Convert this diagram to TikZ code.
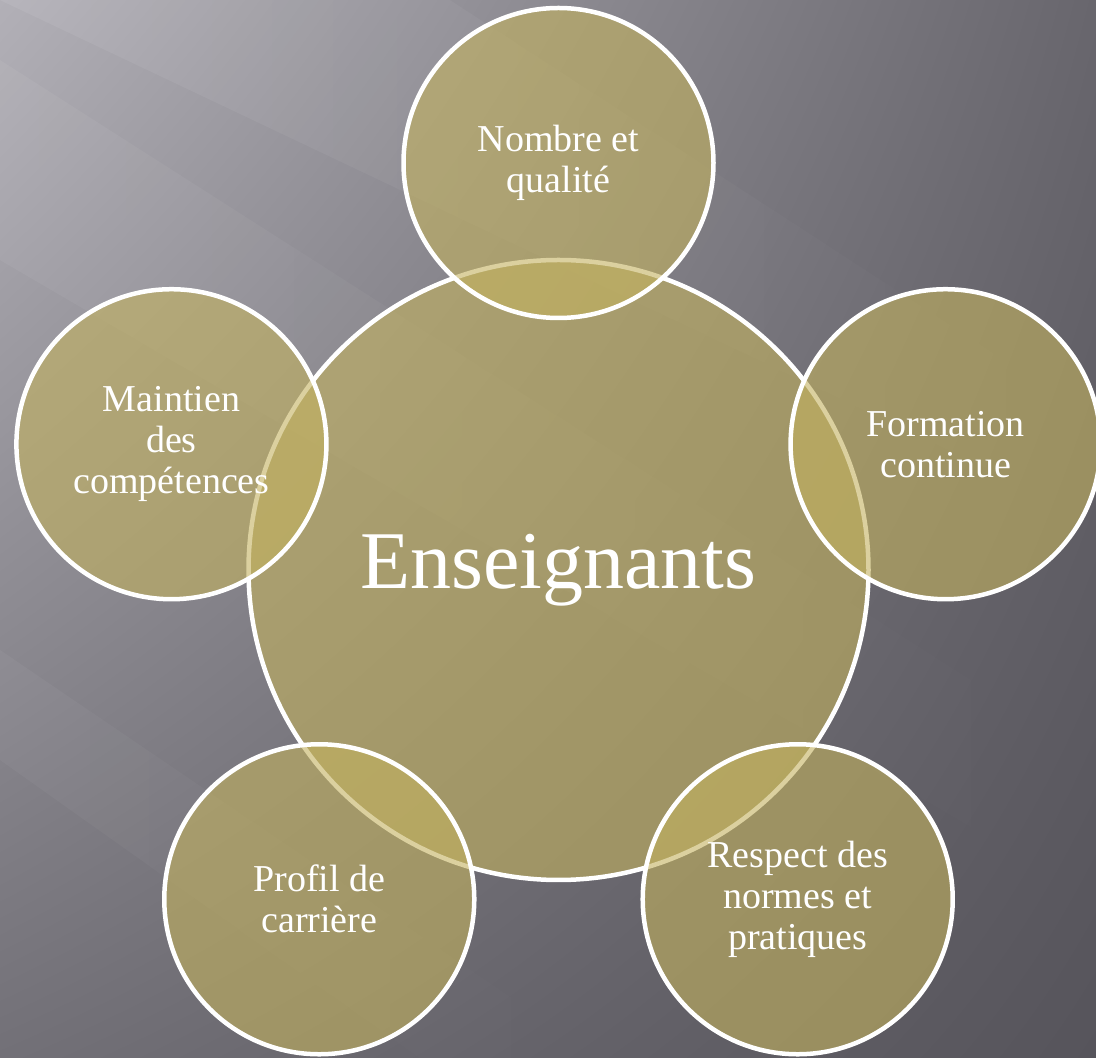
\documentclass[tikz,border=0pt]{standalone}
\usepackage{fontspec}
\setmainfont{Liberation Serif}
\usetikzlibrary{calc,fadings,shadings}

\definecolor{bgtl}{RGB}{178,176,183}
\definecolor{bgtr}{RGB}{104,102,109}
\definecolor{bgbl}{RGB}{114,112,119}
\definecolor{bgbr}{RGB}{86,84,91}
\definecolor{olive}{RGB}{195,178,95}

\begin{document}
\begin{tikzpicture}[x=1pt,y=1pt,
        hub/.style={circle, draw=white, line width=4.5pt, fill=olive,
                fill opacity=0.6, text opacity=1, text=white,
                minimum size=620pt, inner sep=0pt,
                font=\fontsize{82}{88}\selectfont},
        petal/.style={hub, minimum size=310pt, align=center,
                font=\fontsize{38}{41}\selectfont},
        streak/.style={fill=white, path fading=east}]

    \useasboundingbox (0,0) rectangle (1096,1058);

    % background
    \shade[upper left=bgtl, upper right=bgtr, lower left=bgbl, lower right=bgbr]
        (0,0) rectangle (1096,1058);
    \fill[streak, fill opacity=0.07] (0,1058) -- (450,1058) -- (1096,638) -- (1096,538) -- cycle;
    \fill[streak, fill opacity=0.05] (0,998) -- (0,798) -- (1096,158) -- (1096,298) -- cycle;
    \fill[streak, fill opacity=0.04] (0,408) -- (0,298) -- (420,0) -- (600,0) -- cycle;

    % centre
    \node[hub] (ens) at (558.5,488) {Enseignants};

    % around it
    \node[petal] (nq) at ($(ens)+(90:407)$)  {Nombre et\\qualité};
    \node[petal] (fc) at ($(ens)+(18:407)$)  {Formation\\continue};
    \node[petal] (rn) at ($(ens)+(-54:407)$) {Respect des\\normes et\\pratiques};
    \node[petal] (pc) at ($(ens)+(234:407)$) {Profil de\\carrière};
    \node[petal] (mc) at ($(ens)+(162:407)$) {Maintien\\des\\compétences};

\end{tikzpicture}
\end{document}
